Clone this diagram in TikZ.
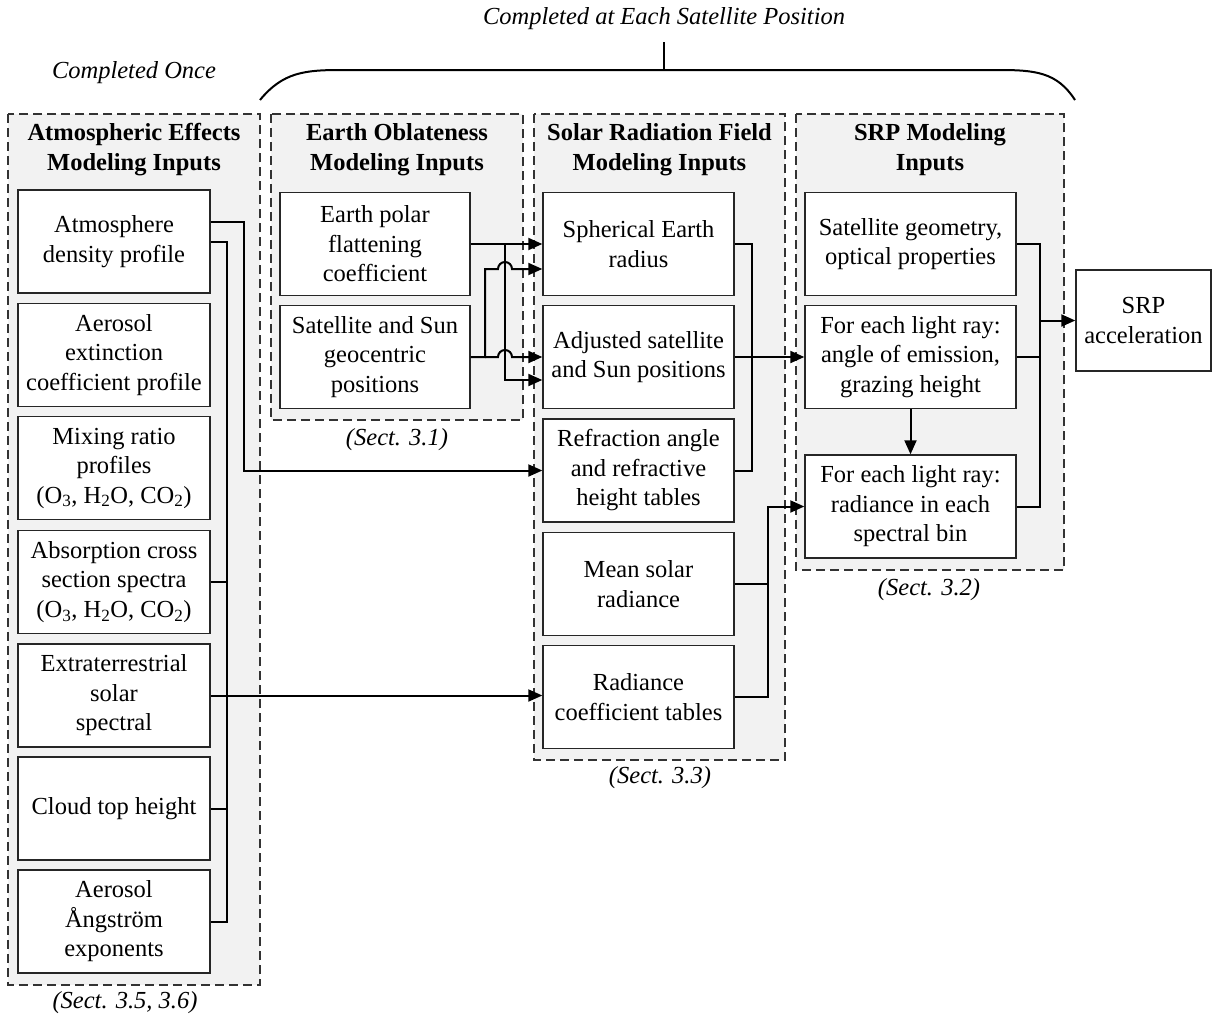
\documentclass[tikz,border=0pt]{standalone}
\usepackage{fontspec}
\setmainfont{Liberation Serif}
\usetikzlibrary{arrows.meta,calc}
\begin{document}
\begin{tikzpicture}[x=1pt,y=-1pt,
  every node/.style={font=\fontsize{24.5pt}{29.5pt}\selectfont},
  box/.style={draw=black!85, line width=1.4pt, fill=white, align=center, inner sep=0pt, minimum height=103pt},
  boxA/.style={box, minimum width=192pt},
  boxB/.style={box, minimum width=190pt},
  boxC/.style={box, minimum width=191pt},
  boxD/.style={box, minimum width=211pt},
  grp/.style={draw=black!80, line width=1.3pt, dash pattern=on 9pt off 5pt, fill=black!5},
  ttl/.style={font=\bfseries\fontsize{24.5pt}{30pt}\selectfont, align=center},
  lbl/.style={font=\itshape\fontsize{24.5pt}{29.5pt}\selectfont},
  wire/.style={line width=2pt},
  arr/.style={wire, -{Triangle[length=14pt,width=12pt]}},
]
\useasboundingbox (0,0) rectangle (1212,1020);

% group panels
\draw[grp] (8,114) rectangle (260,985);
\draw[grp] (271,114) rectangle (523,420);
\draw[grp] (534,114) rectangle (785,760);
\draw[grp] (796,114) rectangle (1064,570);

% brace
\draw[line width=2pt] (260,100) .. controls (283,72) and (305,70) .. (342,70) -- (998,70) .. controls (1035,70) and (1057,72) .. (1075,100);
\draw[line width=2pt] (664,70) -- (664,42);
\node[lbl] (tEach) at (664,19) {Completed at Each Satellite Position};
\node[lbl] (tOnce) at (134,73) {Completed Once};

% titles
\node[ttl] (gA) at (134,150) {Atmospheric Effects\\Modeling Inputs};
\node[ttl] (gB) at (397,150) {Earth Oblateness\\Modeling Inputs};
\node[ttl] (gC) at (659.5,150) {Solar Radiation Field\\Modeling Inputs};
\node[ttl] (gD) at (930,150) {SRP Modeling\\Inputs};

% section labels
\node[lbl] (sA) at (125,1003) {(Sect. 3.5, 3.6)};
\node[lbl] (sB) at (397,440) {(Sect. 3.1)};
\node[lbl] (sC) at (660,778) {(Sect. 3.3)};
\node[lbl] (sD) at (929,590) {(Sect. 3.2)};

% group A boxes
\node[boxA] (a1) at (114,241.5) {Atmosphere\\density profile};
\node[boxA] (a2) at (114,355) {Aerosol\\extinction\\coefficient profile};
\node[boxA] (a3) at (114,468) {Mixing ratio\\profiles\\(O\textsubscript{3}, H\textsubscript{2}O, CO\textsubscript{2})};
\node[boxA] (a4) at (114,582) {Absorption cross\\section spectra\\(O\textsubscript{3}, H\textsubscript{2}O, CO\textsubscript{2})};
\node[boxA] (a5) at (114,695.5) {Extraterrestrial\\solar\\spectral};
\node[boxA] (a6) at (114,808.5) {Cloud top height};
\node[boxA] (a7) at (114,921.5) {Aerosol\\Ångström\\exponents};

% group B boxes
\node[boxB] (b1) at (375,244) {Earth polar\\flattening\\coefficient};
\node[boxB] (b2) at (375,357) {Satellite and Sun\\geocentric\\positions};

% group C boxes
\node[boxC] (c1) at (638.5,244) {Spherical Earth\\radius};
\node[boxC] (c2) at (638.5,357) {Adjusted satellite\\and Sun positions};
\node[boxC] (c3) at (638.5,470.5) {Refraction angle\\and refractive\\height tables};
\node[boxC] (c4) at (638.5,584) {Mean solar\\radiance};
\node[boxC] (c5) at (638.5,697) {Radiance\\coefficient tables};

% group D boxes
\node[boxD] (d1) at (910.5,244) {Satellite geometry,\\optical properties};
\node[boxD] (d2) at (910.5,357) {For each light ray:\\angle of emission,\\grazing height};
\node[boxD] (d3) at (910.5,506.5) {For each light ray:\\radiance in each\\spectral bin};

% output
\node[box, minimum width=135pt, minimum height=101pt] (srp) at (1143.5,320.5) {SRP\\acceleration};

% junction columns
\coordinate (busA) at (227,0);
\coordinate (busR) at (244,0);
\coordinate (jA) at (485,0);
\coordinate (jB) at (505,0);
\coordinate (jC) at (752,0);
\coordinate (jD) at (768,0);
\coordinate (jE) at (1040,0);
\coordinate (c1lo) at ([yshift=-25pt]c1.west);
\coordinate (c2lo) at ([yshift=-23pt]c2.west);
\coordinate (a1hi) at ([yshift=19.5pt]a1.east);

% group A wiring
\draw[wire] (a1.east) -- (a1.east -| busA) -- (a7.east -| busA) -- (a7.east);
\draw[wire] (a4.east) -- (a4.east -| busA);
\draw[wire] (a6.east) -- (a6.east -| busA);
\draw[arr] (a1hi) -- (a1hi -| busR) -- (busR |- c3.west) -- (c3.west);
\draw[arr] (a5.east) -- (a5.east -| c5.west);

% group B wiring
\draw[arr] (b1.east) -- (b1.east -| c1.west);
\draw[arr] (b1.east -| jB) -- (jB |- c2lo) -- (c2lo);
\draw[arr] (b2.east) -- (b2.east -| jA) -- (jA |- c1lo) -- ([xshift=-7pt]jB |- c1lo) arc[start angle=180,end angle=0,radius=7pt] -- (c1lo);
\draw[arr] (b2.east -| jA) -- ([xshift=-7pt]jB |- b2.east) arc[start angle=180,end angle=0,radius=7pt] -- (b2.east -| c2.west);

% group C wiring
\draw[wire] (c1.east) -- (c1.east -| jC) -- (jC |- c3.east) -- (c3.east);
\draw[arr] (c2.east) -- (d2.west);
\draw[wire] (c4.east) -- (c4.east -| jD);
\draw[arr] (c5.east) -- (c5.east -| jD) -- (jD |- d3.west) -- (d3.west);

% group D wiring
\draw[arr] (d2.south) -- (d3.north);
\draw[wire] (d1.east) -- (d1.east -| jE) -- (jE |- d3.east) -- (d3.east);
\draw[wire] (d2.east) -- (d2.east -| jE);
\draw[arr] (jE |- srp.west) -- (srp.west);
\end{tikzpicture}
\end{document}
